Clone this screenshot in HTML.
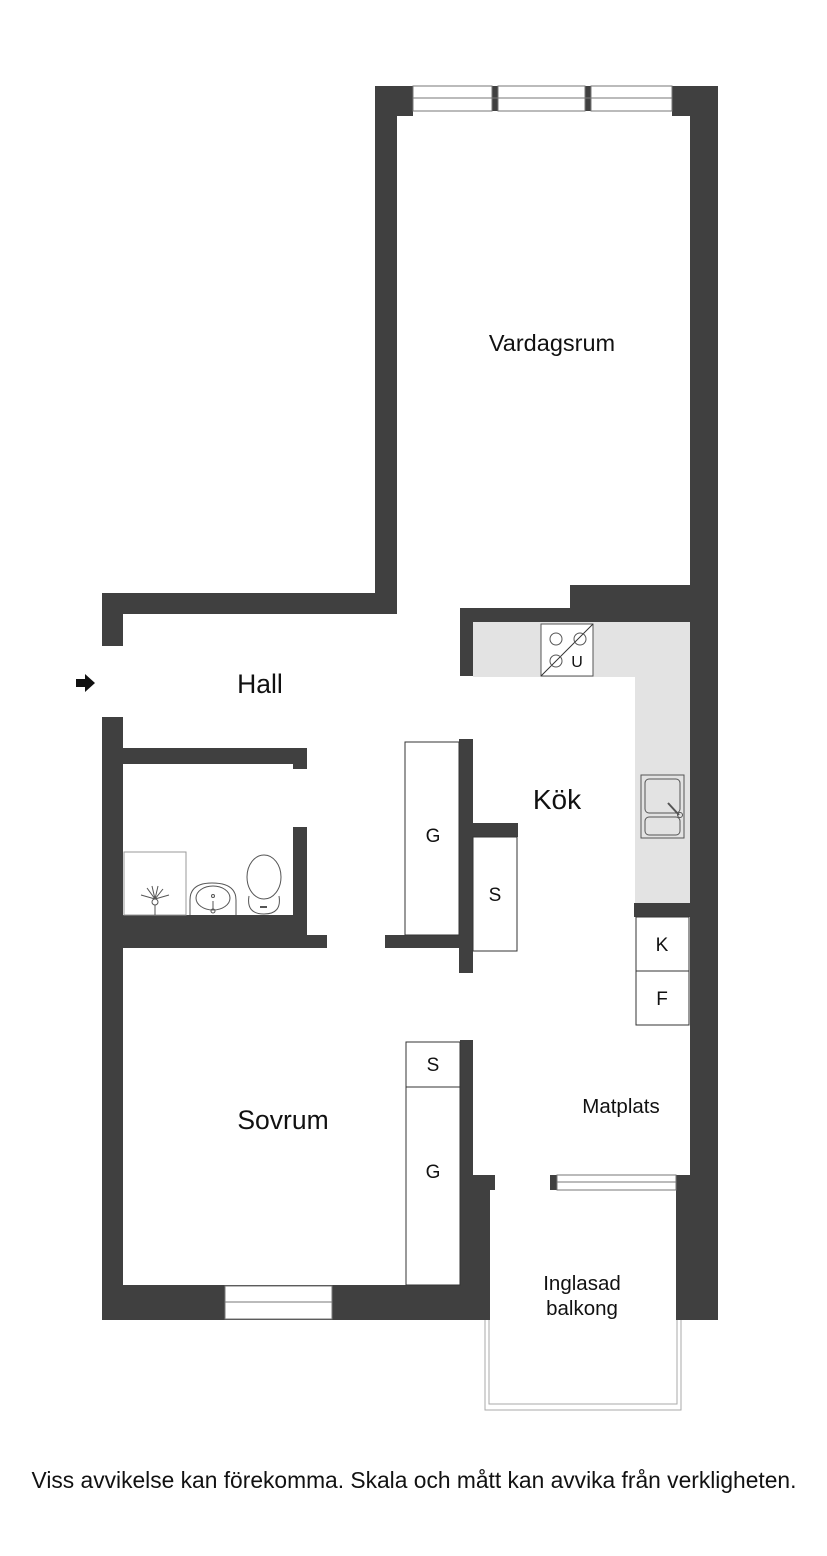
<!DOCTYPE html>
<html><head><meta charset="utf-8"><style>
body{margin:0;background:#fff;}
svg{display:block}
text{font-family:"Liberation Sans",Arial,sans-serif;fill:#111}
</style></head><body>
<svg width="827" height="1556" viewBox="0 0 827 1556" xmlns="http://www.w3.org/2000/svg">
<g fill="#e3e3e3">
<rect x="473" y="622" width="217" height="55"/>
<rect x="635" y="677" width="55" height="226"/>
</g>
<g fill="#404040">
<rect x="375" y="86" width="38" height="30"/>
<rect x="375" y="86" width="22" height="528"/>
<rect x="672" y="86" width="46" height="30"/>
<rect x="690" y="86" width="28" height="1090"/>
<rect x="492" y="86" width="6" height="25"/>
<rect x="585" y="86" width="6" height="25"/>
<rect x="102" y="593" width="295" height="21"/>
<rect x="102" y="593" width="21" height="53"/>
<rect x="102" y="717" width="21" height="603"/>
<rect x="123" y="748" width="184" height="16"/>
<rect x="293" y="748" width="14" height="21"/>
<rect x="293" y="827" width="14" height="121"/>
<rect x="123" y="915" width="184" height="33"/>
<rect x="293" y="935" width="34" height="13"/>
<rect x="385" y="935" width="75" height="13"/>
<rect x="459" y="739" width="14" height="234"/>
<rect x="473" y="823" width="45" height="14"/>
<rect x="460" y="608" width="230" height="14"/>
<rect x="570" y="585" width="120" height="37"/>
<rect x="460" y="608" width="13" height="68"/>
<rect x="634" y="903" width="56" height="14"/>
<rect x="460" y="1040" width="13" height="150"/>
<rect x="460" y="1175" width="35" height="15"/>
<rect x="460" y="1175" width="30" height="145"/>
<rect x="102" y="1285" width="388" height="35"/>
<rect x="550" y="1175" width="7" height="15"/>
<rect x="676" y="1175" width="42" height="145"/>
</g>
<g fill="#fff" stroke="#777" stroke-width="1">
<rect x="413" y="86" width="79" height="25"/><rect x="498" y="86" width="87" height="25"/><rect x="591" y="86" width="81" height="25"/>
<line x1="413" y1="98" x2="672" y2="98"/>
<rect x="225" y="1286" width="107" height="33"/><line x1="225" y1="1302" x2="332" y2="1302"/>
<rect x="557" y="1175" width="119" height="15"/><line x1="557" y1="1182" x2="676" y2="1182"/>
</g>
<g fill="#fff" stroke="#333" stroke-width="1">
<rect x="405" y="742" width="54" height="193"/>
<rect x="473" y="837" width="44" height="114"/>
<rect x="636" y="917" width="53" height="54"/>
<rect x="636" y="971" width="53" height="54"/>
<rect x="406" y="1042" width="54" height="45"/>
<rect x="406" y="1087" width="54" height="198"/>
<rect x="541" y="624" width="52" height="52" stroke="#555"/>
<line x1="541" y1="676" x2="593" y2="624"/>
</g>
<g fill="none" stroke="#555" stroke-width="1">
<circle cx="556" cy="639" r="6"/><circle cx="580" cy="639" r="6"/><circle cx="556" cy="661" r="6"/>
<rect x="641" y="775" width="43" height="63"/>
<rect x="645" y="779" width="35" height="34" rx="4"/>
<rect x="645" y="817" width="35" height="18" rx="4"/>
<line x1="668" y1="803" x2="679" y2="815" stroke-width="2"/>
<circle cx="680" cy="815" r="2.5"/>
<rect x="124" y="852" width="62" height="63" stroke="#999"/>
<path d="M190 915 V900 Q190 883 212 883 Q236 883 236 900 V915"/>
<ellipse cx="213" cy="898" rx="17" ry="12"/>
<circle cx="213" cy="896" r="1.5"/><line x1="213" y1="901" x2="213" y2="910"/><circle cx="213" cy="911" r="2"/>
<ellipse cx="264" cy="877" rx="17" ry="22"/>
<path d="M249 896 Q246 914 264 914 Q282 914 279 896"/>
<line x1="260" y1="907" x2="267" y2="907" stroke-width="2"/>
<circle cx="155" cy="902" r="3"/><line x1="155" y1="905" x2="155" y2="915"/>
<path d="M155 899 L147 888 M155 899 L152 886 M155 899 L158 886 M155 899 L163 889 M155 899 L141 895 M155 899 L169 895"/>
<path d="M485 1320 V1410 H681 V1320 M489 1320 V1404 H677 V1320" stroke="#aaa"/>
</g>
<path d="M76 679 H85 V674 L95 683 L85 692 V687 H76 Z" fill="#111"/>
<text x="552" y="351" font-size="23.5" text-anchor="middle">Vardagsrum</text>
<text x="260" y="693" font-size="26.5" text-anchor="middle">Hall</text>
<text x="557" y="809" font-size="28" text-anchor="middle">Kök</text>
<text x="283" y="1129" font-size="26.5" text-anchor="middle">Sovrum</text>
<text x="621" y="1113" font-size="20.5" text-anchor="middle">Matplats</text>
<text x="582" y="1290" font-size="20.5" text-anchor="middle">Inglasad</text>
<text x="582" y="1315" font-size="20.5" text-anchor="middle">balkong</text>
<g font-size="19" text-anchor="middle">
<text x="433" y="842">G</text><text x="495" y="901">S</text>
<text x="577" y="667" font-size="16">U</text>
<text x="662" y="951">K</text><text x="662" y="1005">F</text>
<text x="433" y="1071">S</text><text x="433" y="1178">G</text>
</g>
<text x="414" y="1488" font-size="22.8" text-anchor="middle">Viss avvikelse kan förekomma. Skala och mått kan avvika från verkligheten.</text>
</svg>
</body></html>
